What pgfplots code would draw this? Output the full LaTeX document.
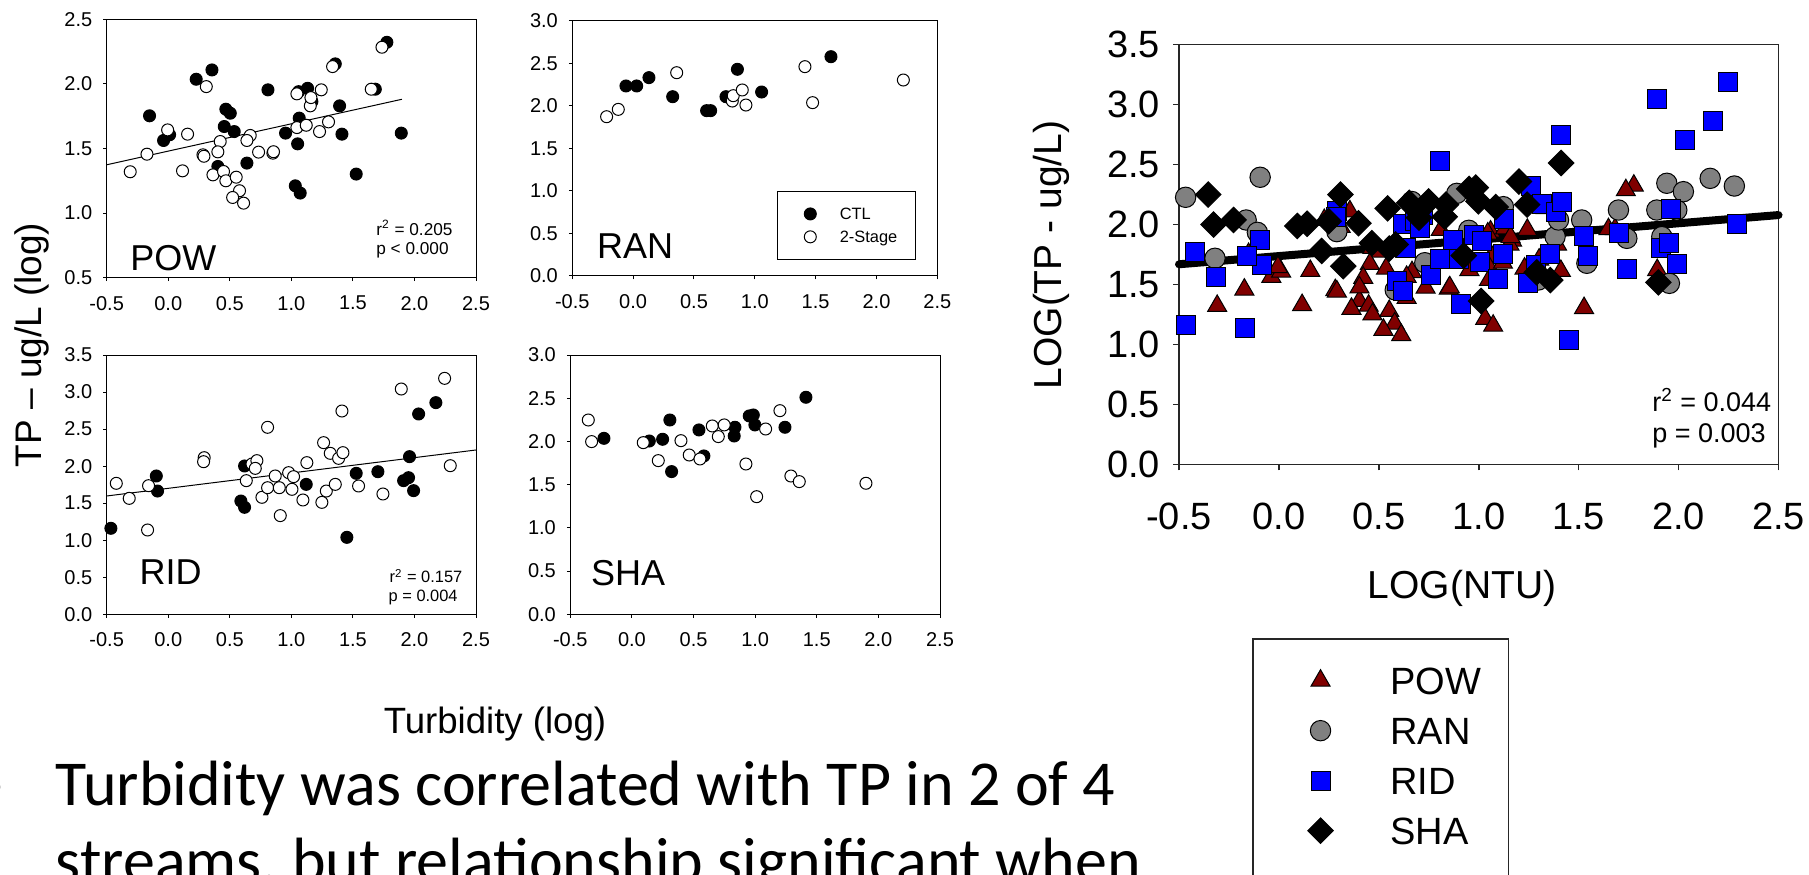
\documentclass[border=0pt]{standalone}
\usepackage{pgfplots}
\pgfplotsset{compat=1.18}
\usepackage{pgfplotstable}
\usepackage{fontspec}
\setmainfont{Liberation Sans}
\newfontfamily\calibri{Carlito}
\definecolor{powred}{RGB}{128,0,0}
\definecolor{rangray}{RGB}{128,128,128}
\definecolor{ridblue}{RGB}{0,0,255}

% ---------------- POW ----------------
\pgfplotstableread{
x y
-0.152 1.753
-0.038 1.562
0.011 1.606
0.227 2.036
0.355 2.108
0.468 1.804
0.504 1.773
0.455 1.670
0.536 1.631
0.403 1.361
0.639 1.387
0.810 1.954
0.953 1.619
1.051 1.536
1.064 1.735
1.032 1.211
1.072 1.155
1.059 1.940
1.132 1.966
1.167 1.863
1.357 2.155
1.392 1.830
1.411 1.611
1.527 1.302
1.682 1.959
1.776 2.322
1.893 1.619
}\powctl
\pgfplotstableread{
x y
-0.309 1.320
-0.173 1.456
-0.005 1.644
0.157 1.611
0.116 1.327
0.309 1.979
0.282 1.451
0.290 1.440
0.363 1.296
0.422 1.554
0.403 1.474
0.449 1.322
0.468 1.250
0.552 1.278
0.579 1.173
0.523 1.121
0.612 1.077
0.666 1.601
0.639 1.562
0.734 1.472
0.850 1.464
0.855 1.475
1.045 1.923
1.045 1.662
1.121 1.680
1.154 1.830
1.159 1.894
1.243 1.954
1.229 1.631
1.302 1.706
1.335 2.134
1.649 1.959
1.736 2.284
}\powopen
% ---------------- RAN ----------------
\pgfplotstableread{
x y
-0.059 2.233
0.029 2.233
0.130 2.331
0.325 2.107
0.604 1.943
0.637 1.943
0.763 2.107
0.857 2.429
1.056 2.162
1.626 2.577
}\ranctl
\pgfplotstableread{
x y
-0.218 1.872
-0.122 1.958
0.358 2.389
0.815 2.056
0.823 2.119
0.897 2.186
0.927 2.009
1.412 2.460
1.475 2.037
2.221 2.303
}\ranopen
\pgfplotstableread{
x y
-0.467 2.225
-0.320 1.717
-0.164 2.036
-0.108 1.933
-0.094 2.392
0.290 1.939
0.582 1.453
0.665 2.190
0.730 1.680
0.890 2.258
0.950 1.950
1.123 2.147
1.298 1.536
1.382 1.897
1.399 2.036
1.515 2.036
1.541 1.675
1.699 2.119
1.741 1.883
1.891 2.119
1.916 1.897
1.941 2.342
1.954 1.508
1.991 2.119
2.024 2.272
2.158 2.383
2.279 2.319
}\ranall
% ---------------- RID ----------------
\pgfplotstableread{
x y
-0.466 1.161
-0.097 1.867
-0.087 1.664
0.590 1.529
0.620 2.002
0.620 1.444
1.121 1.754
1.451 1.039
1.527 1.903
1.703 1.925
1.960 2.128
1.912 1.804
1.952 1.844
1.993 1.669
2.034 2.704
2.174 2.857
}\ridctl
\pgfplotstableread{
x y
-0.422 1.768
-0.317 1.565
-0.160 1.736
-0.168 1.138
0.292 2.114
0.287 2.060
0.634 1.804
0.680 2.029
0.720 2.074
0.707 1.970
0.761 1.579
0.807 2.524
0.807 1.709
0.869 1.867
0.902 1.709
0.910 1.332
0.978 1.912
1.018 1.858
1.005 1.687
1.094 1.543
1.126 2.047
1.248 1.511
1.284 1.664
1.262 2.317
1.316 2.173
1.357 1.754
1.384 2.105
1.419 2.182
1.411 2.744
1.546 1.732
1.744 1.624
1.893 3.041
2.245 3.185
2.291 2.006
}\ridopen
% ---------------- SHA ----------------
\pgfplotstableread{
x y
-0.227 2.036
0.141 2.005
0.249 2.025
0.308 2.248
0.322 1.651
0.544 2.133
0.584 1.832
0.836 2.164
0.830 2.063
0.952 2.295
0.985 2.306
0.998 2.191
1.242 2.164
1.412 2.511
}\shactl
\pgfplotstableread{
x y
-0.354 2.248
-0.327 1.998
0.092 1.986
0.214 1.778
0.398 2.009
0.465 1.843
0.552 1.797
0.652 2.179
0.749 2.191
0.701 2.056
0.925 1.739
1.012 1.361
1.085 2.144
1.201 2.356
1.290 1.600
1.358 1.535
1.899 1.516
}\shaopen

\pgfplotsset{
  smallax/.style={scale only axis, anchor=south west, clip=false,
    xmin=-0.5, xmax=2.5, xtick={-0.5,0,0.5,1,1.5,2,2.5},
    tick align=outside, xtick pos=bottom, ytick pos=left,
    major tick length=1.7pt,
    axis line style={line width=0.5pt, black},
    every tick/.style={line width=0.5pt, black},
    tick label style={font=\fontsize{10}{11}\selectfont},
    xticklabel style={yshift=-4pt},
    yticklabel style={xshift=-2pt},
    /pgf/number format/fixed, /pgf/number format/fixed zerofill,
    /pgf/number format/precision=1, /pgf/number format/assume math mode=true},
  ctl/.style={only marks, mark=*, mark size=3pt, mark options={fill=black, draw=black, line width=0.5pt}},
  opn/.style={only marks, mark=*, mark size=3pt, mark options={fill=white, draw=black, line width=0.5pt}},
  regl/.style={no marks, black, line width=0.5pt},
  smalleg/.style={legend image code/.code={\path (0pt,0pt) (21.5pt,0pt); \draw[##1] plot coordinates {(7pt,0pt)};}},
  biglegimg/.style={legend image code/.code={\path (0pt,0pt) (54.25pt,0pt); \draw[##1] plot coordinates {(19.75pt,0pt)};}},
  powst/.style={only marks, mark=triangle*, mark size=5.5pt, mark options={fill=powred, draw=black, line width=0.5pt}},
  ranst/.style={only marks, mark=*, mark size=5.1pt, mark options={fill=rangray, draw=black, line width=0.5pt}},
  ridst/.style={only marks, mark=square*, mark size=4.75pt, mark options={fill=ridblue, draw=black, line width=0.5pt}},
  shast/.style={only marks, mark=square*, mark size=4.5pt, mark options={fill=black, draw=black, rotate=45, line width=0.5pt}},
}

\begin{document}
\begin{tikzpicture}
\useasboundingbox (0,0) rectangle (904.5pt,437pt);

% ---------- POW ----------
\begin{axis}[smallax, at={(53.35pt,298.15pt)}, width=184.65pt, height=129.2pt,
  ymin=0.5, ymax=2.5, ytick={0.5,1,1.5,2,2.5}]
\addplot[regl] coordinates {(-0.5,1.374) (1.898,1.881)};
\addplot[ctl] table[x=x,y=y] {\powctl};
\addplot[opn] table[x=x,y=y] {\powopen};
\end{axis}

% ---------- RAN ----------
\begin{axis}[smallax, at={(286.15pt,299pt)}, width=182.5pt, height=127.65pt,
  ymin=0, ymax=3, ytick={0,0.5,1,1.5,2,2.5,3},
  legend style={at={(0.56,0.334)}, anchor=north west, draw=black, line width=0.5pt,
    inner xsep=9.3pt, inner ysep=8.35pt, row sep=5.45pt,
    font=\fontsize{8.2}{9}\selectfont,
    nodes={inner sep=0pt, text height=5.9pt, text depth=0pt}, cells={anchor=west}}]
\addplot[ctl, smalleg] table[x=x,y=y] {\ranctl};
\addlegendentry{CTL}
\addplot[opn, smalleg] table[x=x,y=y] {\ranopen};
\addlegendentry{2-Stage}
\end{axis}

% ---------- RID ----------
\begin{axis}[smallax, at={(53.35pt,129.85pt)}, width=184.65pt, height=129.65pt,
  ymin=0, ymax=3.5, ytick={0,0.5,1,1.5,2,2.5,3,3.5}]
\addplot[regl] coordinates {(-0.5,1.597) (2.5,2.218)};
\addplot[ctl] table[x=x,y=y] {\ridctl};
\addplot[opn] table[x=x,y=y] {\ridopen};
\end{axis}

% ---------- SHA ----------
\begin{axis}[smallax, at={(285.15pt,129.85pt)}, width=184.85pt, height=129.65pt,
  ymin=0, ymax=3, ytick={0,0.5,1,1.5,2,2.5,3}]
\addplot[ctl] table[x=x,y=y] {\shactl};
\addplot[opn] table[x=x,y=y] {\shaopen};
\end{axis}

% ---------- Combined ----------
\begin{axis}[scale only axis, anchor=south west, clip=false,
  at={(589.5pt,204.85pt)}, width=299.75pt, height=210pt,
  xmin=-0.5, xmax=2.5, ymin=0, ymax=3.5,
  xtick={-0.5,0,0.5,1,1.5,2,2.5}, ytick={0,0.5,1,1.5,2,2.5,3,3.5},
  tick align=outside, xtick pos=bottom, ytick pos=left,
  major tick length=3pt,
  axis line style={line width=0.75pt, black!85},
  every tick/.style={line width=0.75pt, black!85},
  tick label style={font=\fontsize{19}{22}\selectfont},
  xticklabel style={yshift=-12.8pt},
  yticklabel style={xshift=-3pt},
  /pgf/number format/fixed, /pgf/number format/fixed zerofill,
  /pgf/number format/precision=1, /pgf/number format/assume math mode=true,
  legend style={at={(0.1223,-0.4143)}, anchor=north west, draw=black!85, line width=0.75pt,
    inner xsep=13.6pt, inner ysep=14pt, row sep=11.4pt,
    font=\fontsize{19}{22}\selectfont,
    nodes={inner sep=0pt, text height=13.6pt, text depth=0pt}, cells={anchor=west}}]
\addplot[no marks, black, line width=4pt, line cap=round, forget plot] coordinates {(-0.5,1.667) (2.5,2.077)};
\addplot[powst, biglegimg] table[x=x,y=y] {\powctl};
\addlegendentry{POW}
\addplot[powst, forget plot] table[x=x,y=y] {\powopen};
\addplot[ranst, biglegimg] table[x=x,y=y] {\ranall};
\addlegendentry{RAN}
\addplot[ridst, biglegimg] table[x=x,y=y] {\ridctl};
\addlegendentry{RID}
\addplot[ridst, forget plot] table[x=x,y=y] {\ridopen};
\addplot[shast, biglegimg] table[x=x,y=y] {\shactl};
\addlegendentry{SHA}
\addplot[shast, forget plot] table[x=x,y=y] {\shaopen};
\addlegendimage{empty legend}
\addlegendentry{}
\end{axis}

% ---------- texts ----------
\node[font=\fontsize{18}{20}\selectfont, anchor=base west, inner sep=0pt] at (65pt,301.65pt) {POW};
\node[font=\fontsize{18}{20}\selectfont, anchor=base west, inner sep=0pt] at (298.35pt,307.85pt) {RAN};
\node[font=\fontsize{18}{20}\selectfont, anchor=base west, inner sep=0pt] at (69.65pt,145pt) {RID};
\node[font=\fontsize{18}{20}\selectfont, anchor=base west, inner sep=0pt] at (295.35pt,144.5pt) {SHA};

\node[font=\fontsize{8.6}{10}\selectfont, anchor=base west, inner sep=0pt] at (188pt,319pt) {r\textsuperscript{2} = 0.205};
\node[font=\fontsize{8.6}{10}\selectfont, anchor=base west, inner sep=0pt] at (188pt,309.5pt) {p < 0.000};
\node[font=\fontsize{8.2}{10}\selectfont, anchor=base west, inner sep=0pt] at (194.65pt,145.65pt) {r\textsuperscript{2} = 0.157};
\node[font=\fontsize{8.2}{10}\selectfont, anchor=base west, inner sep=0pt] at (194.15pt,136.15pt) {p = 0.004};

\node[font=\fontsize{13.5}{15}\selectfont, anchor=base west, inner sep=0pt] at (826pt,231.15pt) {r\textsuperscript{2} = 0.044};
\node[font=\fontsize{13.5}{15}\selectfont, anchor=base west, inner sep=0pt] at (826pt,215.65pt) {p = 0.003};

\node[font=\fontsize{18.5}{20}\selectfont, rotate=90, inner sep=0pt] at (16pt,264.5pt) {TP -- ug/L (log)};
\node[font=\fontsize{18.3}{20}\selectfont, inner sep=0pt] at (247.5pt,75pt) {Turbidity (log)};
\node[font=\fontsize{19.5}{22}\selectfont, rotate=90, inner sep=0pt] at (525.5pt,309.5pt) {LOG(TP - ug/L)};
\node[font=\fontsize{19.5}{22}\selectfont, inner sep=0pt] at (731pt,143pt) {LOG(NTU)};

\node[font=\calibri\fontsize{32}{38}\selectfont, anchor=base west, inner sep=0pt] at (27.75pt,34.5pt) {Turbidity was correlated with TP in 2 of 4};
\node[font=\calibri\fontsize{32}{38}\selectfont, anchor=base west, inner sep=0pt] at (27.75pt,-4pt) {streams, but relationship significant when};
\node[font=\calibri\fontsize{32}{38}\selectfont, anchor=base east, inner sep=0pt] at (3pt,34.5pt) {•};
\end{tikzpicture}
\end{document}
